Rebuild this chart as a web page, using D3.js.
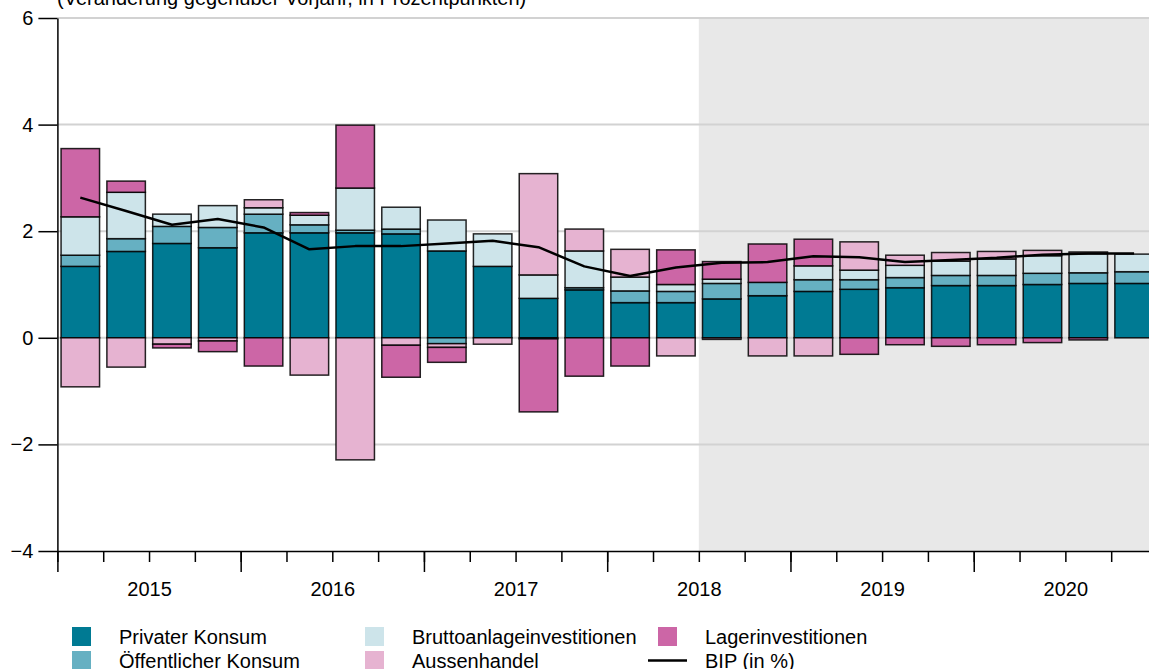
<!DOCTYPE html>
<html>
<head>
<meta charset="utf-8">
<script src="https://cdn.jsdelivr.net/npm/d3@7"></script>
<style>
  body { margin: 0; background: #fff; }
  svg { display: block; font-family: "Liberation Sans", Arial, sans-serif; }
</style>
</head>
<body>
<svg id="chart" width="1149" height="669"></svg>
<script>
// Quarterly contributions to GDP growth (percentage points)
let quarters = ["2015Q1","2015Q2","2015Q3","2015Q4","2016Q1","2016Q2","2016Q3","2016Q4",
                "2017Q1","2017Q2","2017Q3","2017Q4","2018Q1","2018Q2","2018Q3","2018Q4",
                "2019Q1","2019Q2","2019Q3","2019Q4","2020Q1","2020Q2","2020Q3","2020Q4"];
let years = ["2015","2016","2017","2018","2019","2020"];
let yTicks = [-4, -2, 0, 2, 4, 6];

let privat = [1.34,1.62,1.77,1.69,1.97,1.97,1.97,1.95,1.63,1.34,0.74,0.90,0.66,0.66,0.73,0.79,0.87,0.91,0.94,0.98,0.98,1.00,1.02,1.02];
let oeffentlich = [0.21,0.24,0.32,0.38,0.35,0.15,0.05,0.09,-0.11,0,-0.02,0.04,0.22,0.21,0.29,0.25,0.22,0.18,0.19,0.19,0.19,0.21,0.20,0.22];
let brutto = [0.72,0.87,0.23,0.41,0.12,0.18,0.79,0.41,0.58,0.61,0.44,0.69,0.26,0.13,0.08,0,0.26,0.18,0.23,0.27,0.31,0.33,0.36,0.33];
let aussen = [-0.92,-0.55,-0.12,-0.06,0.15,-0.70,-2.29,-0.14,-0.07,-0.12,1.90,0.41,0.52,-0.34,-0.03,-0.34,-0.34,0.53,0.19,0.16,0.14,0.10,0.03,0];
let lager = [1.28,0.21,-0.07,-0.20,-0.53,0.05,1.18,-0.60,-0.28,0,-1.37,-0.72,-0.53,0.65,0.33,0.72,0.50,-0.31,-0.13,-0.16,-0.13,-0.09,-0.04,0];
let bip = [2.63,2.38,2.12,2.23,2.07,1.66,1.72,1.72,1.77,1.82,1.70,1.34,1.16,1.32,1.41,1.42,1.53,1.51,1.42,1.46,1.50,1.56,1.58,1.58];

let forecastStart = "2018Q3";

let series = [
    {key: "privat", name: "Privater Konsum", color: "#007a93", values: privat},
    {key: "oeff", name: "Öffentlicher Konsum", color: "#66b0c2", values: oeffentlich},
    {key: "brutto", name: "Bruttoanlageinvestitionen", color: "#cde4ea", values: brutto},
    {key: "aussen", name: "Aussenhandel", color: "#e6b3d1", values: aussen},
    {key: "lager", name: "Lagerinvestitionen", color: "#cc66a6", values: lager}
];

let table = quarters.map((q, i) => {
    let row = {q: q};
    series.forEach(s => row[s.key] = s.values[i]);
    return row;
});

let svg = d3.select("#chart");
let plotLeft = 57.4, plotRight = 1157, plotTop = 18, plotBottom = 551;

let x = d3.scaleBand()
    .domain(quarters)
    .range([plotLeft, plotRight])
    .paddingInner(0.16)
    .paddingOuter(0.08);

// quarter index scale for ticks
let xq = d3.scaleLinear().domain([0, quarters.length]).range([plotLeft, plotRight]);

let y = d3.scaleLinear().domain([-4, 6]).range([plotBottom, plotTop]);

// forecast shading
svg.append("rect")
    .attr("x", xq(quarters.indexOf(forecastStart)))
    .attr("y", y(6))
    .attr("width", 1149 - xq(quarters.indexOf(forecastStart)))
    .attr("height", y(-4) - y(6))
    .attr("fill", "#e8e8e8");

// grid
svg.append("g")
    .selectAll("line")
    .data(yTicks.filter(d => d > -4))
    .join("line")
    .attr("x1", plotLeft)
    .attr("x2", 1149)
    .attr("y1", d => y(d))
    .attr("y2", d => y(d))
    .attr("stroke", "#d2d2d2")
    .attr("stroke-width", 2);

// stacked bars
let stack = d3.stack()
    .keys(series.map(s => s.key))
    .offset(d3.stackOffsetDiverging);

let stacked = stack(table);

svg.append("g")
    .selectAll("g")
    .data(stacked)
    .join("g")
    .attr("fill", (d, i) => series[i].color)
    .selectAll("rect")
    .data(d => d.filter(p => Math.abs(p[1] - p[0]) > 0.004))
    .join("rect")
    .attr("x", d => x(d.data.q))
    .attr("width", x.bandwidth())
    .attr("y", d => y(d[1]))
    .attr("height", d => y(d[0]) - y(d[1]))
    .attr("stroke", "#000")
    .attr("stroke-opacity", 0.85)
    .attr("stroke-width", 1.5);

// BIP line
let line = d3.line()
    .x((d, i) => x(quarters[i]) + x.bandwidth() / 2)
    .y(d => y(d));

svg.append("path")
    .datum(bip)
    .attr("fill", "none")
    .attr("stroke", "#000")
    .attr("stroke-width", 2.5)
    .attr("stroke-linejoin", "round")
    .attr("d", line);

// y axis
let yAxis = svg.append("g")
    .attr("transform", "translate(" + plotLeft + ",0)")
    .call(d3.axisLeft(y).tickValues(yTicks).tickSize(19).tickPadding(5).tickSizeOuter(0));
yAxis.selectAll("text").attr("font-size", 20).attr("fill", "#000");
yAxis.selectAll("line, path").attr("stroke", "#000").attr("stroke-width", 1.5);

// x axis: quarter ticks, year ticks, year labels
let xg = svg.append("g").attr("transform", "translate(0," + plotBottom + ")");
xg.append("g")
    .call(d3.axisBottom(xq).tickValues(d3.range(0, quarters.length + 1)).tickSize(11).tickFormat("").tickSizeOuter(0))
    .selectAll("line, path").attr("stroke", "#000").attr("stroke-width", 1.5);
xg.append("g")
    .call(d3.axisBottom(xq).tickValues(d3.range(0, quarters.length + 1, 4)).tickSize(21).tickFormat(""))
    .call(g => g.select(".domain").remove())
    .selectAll("line").attr("stroke", "#000").attr("stroke-width", 1.5);
let labels = xg.append("g")
    .call(d3.axisBottom(xq).tickValues(years.map((d, i) => i * 4 + 2)).tickSize(0).tickPadding(31)
        .tickFormat((d, i) => years[i]))
    .call(g => g.select(".domain").remove());
labels.selectAll("text").attr("font-size", 20).attr("fill", "#000");

// subtitle (cut off at the top, as in the original)
svg.append("text")
    .attr("x", 57)
    .attr("y", 5)
    .attr("font-size", 20)
    .attr("fill", "#000")
    .text("(Veränderung gegenüber Vorjahr, in Prozentpunkten)");

// legend
let legendItems = [
    {name: series[0].name, color: series[0].color, col: 0, row: 0},
    {name: series[1].name, color: series[1].color, col: 0, row: 1},
    {name: series[2].name, color: series[2].color, col: 1, row: 0},
    {name: series[3].name, color: series[3].color, col: 1, row: 1},
    {name: series[4].name, color: series[4].color, col: 2, row: 0},
    {name: "BIP (in %)", line: true, col: 2, row: 1}
];
let colX = [72, 365, 658];
let rowY = [636.5, 660.5];

let legend = svg.append("g")
    .selectAll("g")
    .data(legendItems)
    .join("g")
    .attr("transform", d => "translate(" + colX[d.col] + "," + rowY[d.row] + ")");

legend.filter(d => !d.line).append("rect")
    .attr("x", 0).attr("y", -9.5)
    .attr("width", 19).attr("height", 19)
    .attr("fill", d => d.color);
legend.filter(d => d.line).append("line")
    .attr("x1", -10).attr("x2", 29)
    .attr("y1", 0).attr("y2", 0)
    .attr("stroke", "#000").attr("stroke-width", 2.5);
legend.append("text")
    .attr("x", 47)
    .attr("y", 7.5)
    .attr("font-size", 20)
    .attr("fill", "#000")
    .text(d => d.name);
</script>
</body>
</html>
